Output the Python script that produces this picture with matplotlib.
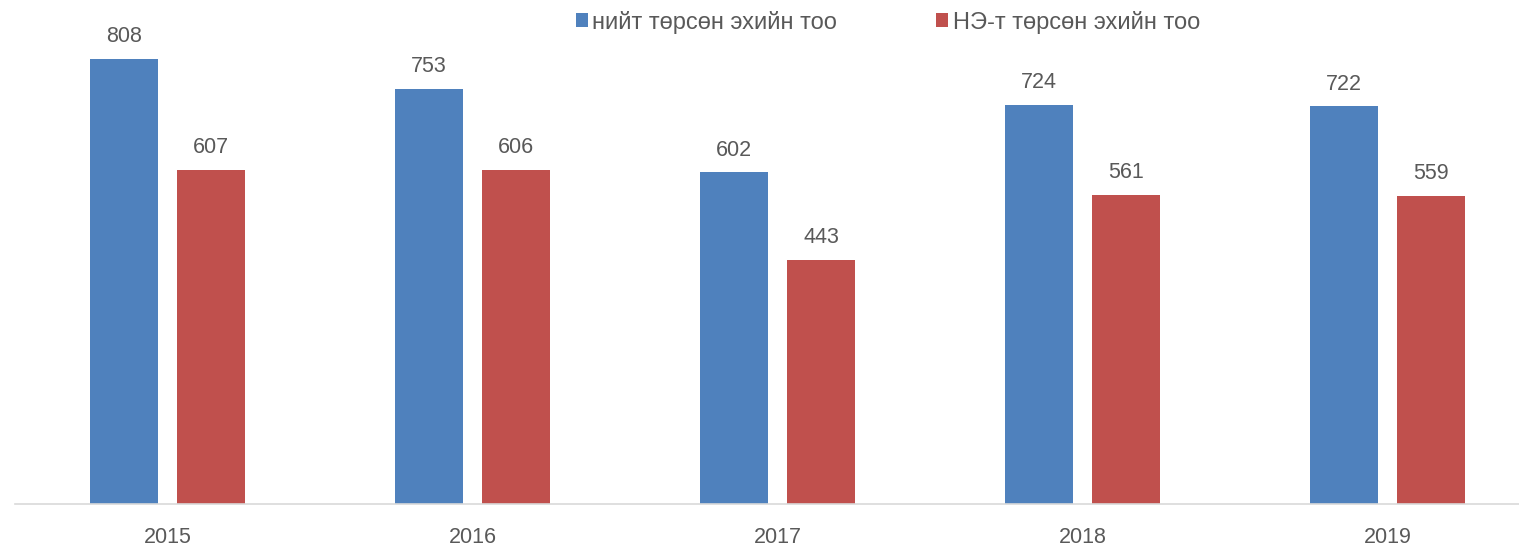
import matplotlib
matplotlib.use("Agg")
import matplotlib.pyplot as plt
import numpy as np

years = ["2015", "2016", "2017", "2018", "2019"]
total_births = [808, 753, 602, 724, 722]
ne_births = [607, 606, 443, 561, 559]
series_names = ["нийт төрсөн эхийн тоо", "НЭ-т төрсөн эхийн тоо"]

plt.rcParams['font.family'] = ['Liberation Sans', 'DejaVu Sans']
W, H = 1519, 545
fig = plt.figure(figsize=(W/100, H/100), dpi=100)
left, right, bottom, top = 15, 1519, 41, 8.3
ax = fig.add_axes([left/W, bottom/H, (right-left)/W, (H-bottom-top)/H])

blue = "#4F81BD"
red = "#C0504D"
grey = "#595959"
x = np.arange(len(years))
bw = 68/305
off = 43.5/305
b1 = ax.bar(x-off, total_births, bw, color=blue, label=series_names[0])
b2 = ax.bar(x+off, ne_births, bw, color=red, label=series_names[1])
for bars in (b1, b2):
    for r in bars:
        ax.annotate(f"{int(r.get_height())}", (r.get_x()+r.get_width()/2, r.get_height()),
                    xytext=(0, 8.5), textcoords="offset points", ha="center", va="bottom",
                    fontsize=15.5, color=grey)

ax.set_xlim(-0.5, (right-left)/305 - 0.5)
ax.set_ylim(0, 900)
ax.set_xticks(x)
ax.set_xticklabels(years, fontsize=15.5, color=grey)
ax.tick_params(axis='x', length=0, pad=16.5)
ax.set_yticks([])
for s in ["top", "right", "left"]:
    ax.spines[s].set_visible(False)
ax.spines["bottom"].set_color("#D9D9D9")
ax.spines["bottom"].set_linewidth(1.2)

leg = fig.legend(loc="center", bbox_to_anchor=(888/W, 1-22/H), ncol=2, frameon=False,
                 fontsize=17, handlelength=0.5, handleheight=0.5, handletextpad=0.2,
                 columnspacing=4.2, labelcolor=grey, borderpad=0)
fig.savefig("out.png", dpi=100)
